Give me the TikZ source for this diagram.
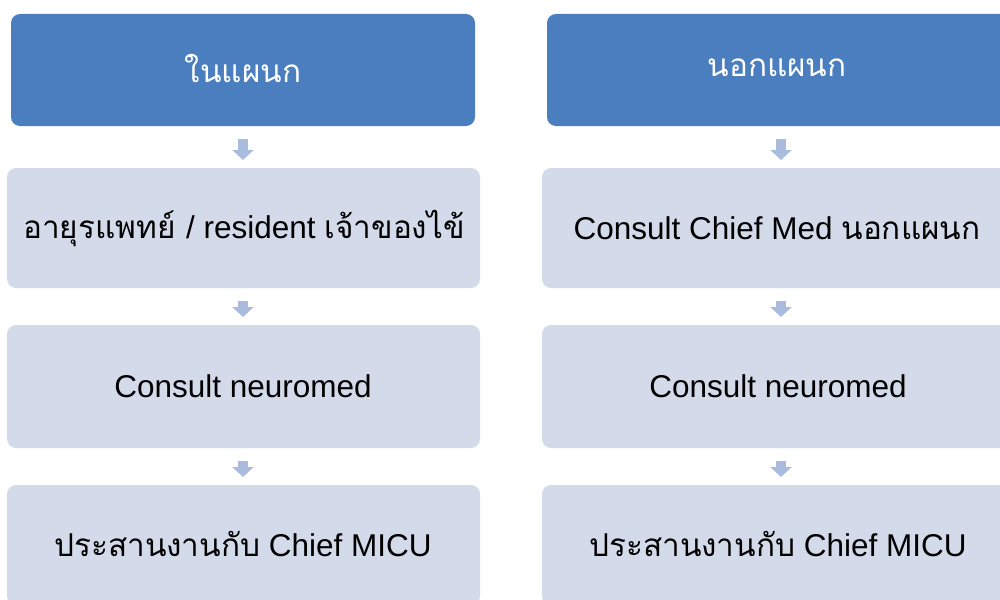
\documentclass[tikz,border=0pt]{standalone}
\usepackage{fontspec}
\setmainfont{Liberation Sans}
\newfontfamily\thaifont[Script=Thai]{Loma}
\usetikzlibrary{arrows.meta}
\definecolor{hdrblue}{HTML}{4A7EBF}
\definecolor{bodyblue}{HTML}{D3DBEA}
\definecolor{arrblue}{HTML}{A9BCDD}
\tikzset{
  hdr/.style={fill=hdrblue, rounded corners=9pt},
  bodybox/.style={fill=bodyblue, rounded corners=9pt},
  hdrtext/.style={text=white, font=\fontsize{31.5}{36}\selectfont},
  bodytext/.style={text=black, font=\fontsize{31.5}{36}\selectfont},
  flow/.style={draw=arrblue, line width=10pt, -{Triangle[width=21pt,length=10pt]}, shorten <=13pt, shorten >=8pt}
}
\begin{document}
\begin{tikzpicture}[x=1pt,y=-1pt]
\useasboundingbox (0,0) rectangle (1000,599);
\begin{scope}
\clip (0,0) rectangle (1000,599);
% left column
\path[hdr] (11,14) rectangle (475,126);
\node[hdrtext] (L1) at (243,68) {\thaifont ในแผนก};
\coordinate (L1s) at (243,126);
\path[bodybox] (7,168) rectangle (480,288);
\node[bodytext] (L2) at (244,228) {\thaifont อายุรแพทย์\ \fontspec{Liberation Sans}/ resident \thaifont เจ้าของไข้};
\coordinate (L2n) at (243,168);
\coordinate (L2s) at (243,288);
\path[bodybox] (7,325) rectangle (480,448);
\node[bodytext] (L3) at (243,386) {Consult neuromed};
\coordinate (L3n) at (243,325);
\coordinate (L3s) at (243,448);
\path[bodybox] (7,485) rectangle (480,605);
\node[bodytext] (L4) at (243,544) {{\thaifont ประสานงานกับ} Chief MICU};
\coordinate (L4n) at (243,485);
% right column
\path[hdr] (547,14) rectangle (1013,126);
\node[hdrtext] (R1) at (777,68) {\thaifont นอกแผนก};
\coordinate (R1s) at (781,126);
\path[bodybox] (542,168) rectangle (1018,288);
\node[bodytext] (R2) at (777,228) {Consult Chief Med {\thaifont นอกแผนก}};
\coordinate (R2n) at (781,168);
\coordinate (R2s) at (781,288);
\path[bodybox] (542,325) rectangle (1018,448);
\node[bodytext] (R3) at (778,386) {Consult neuromed};
\coordinate (R3n) at (781,325);
\coordinate (R3s) at (781,448);
\path[bodybox] (542,485) rectangle (1018,605);
\node[bodytext] (R4) at (778,544) {{\thaifont ประสานงานกับ} Chief MICU};
\coordinate (R4n) at (781,485);
% arrows
\draw[flow] (L1s) -- (L2n);
\draw[flow] (L2s) -- (L3n);
\draw[flow] (L3s) -- (L4n);
\draw[flow] (R1s) -- (R2n);
\draw[flow] (R2s) -- (R3n);
\draw[flow] (R3s) -- (R4n);
\end{scope}
\end{tikzpicture}
\end{document}
